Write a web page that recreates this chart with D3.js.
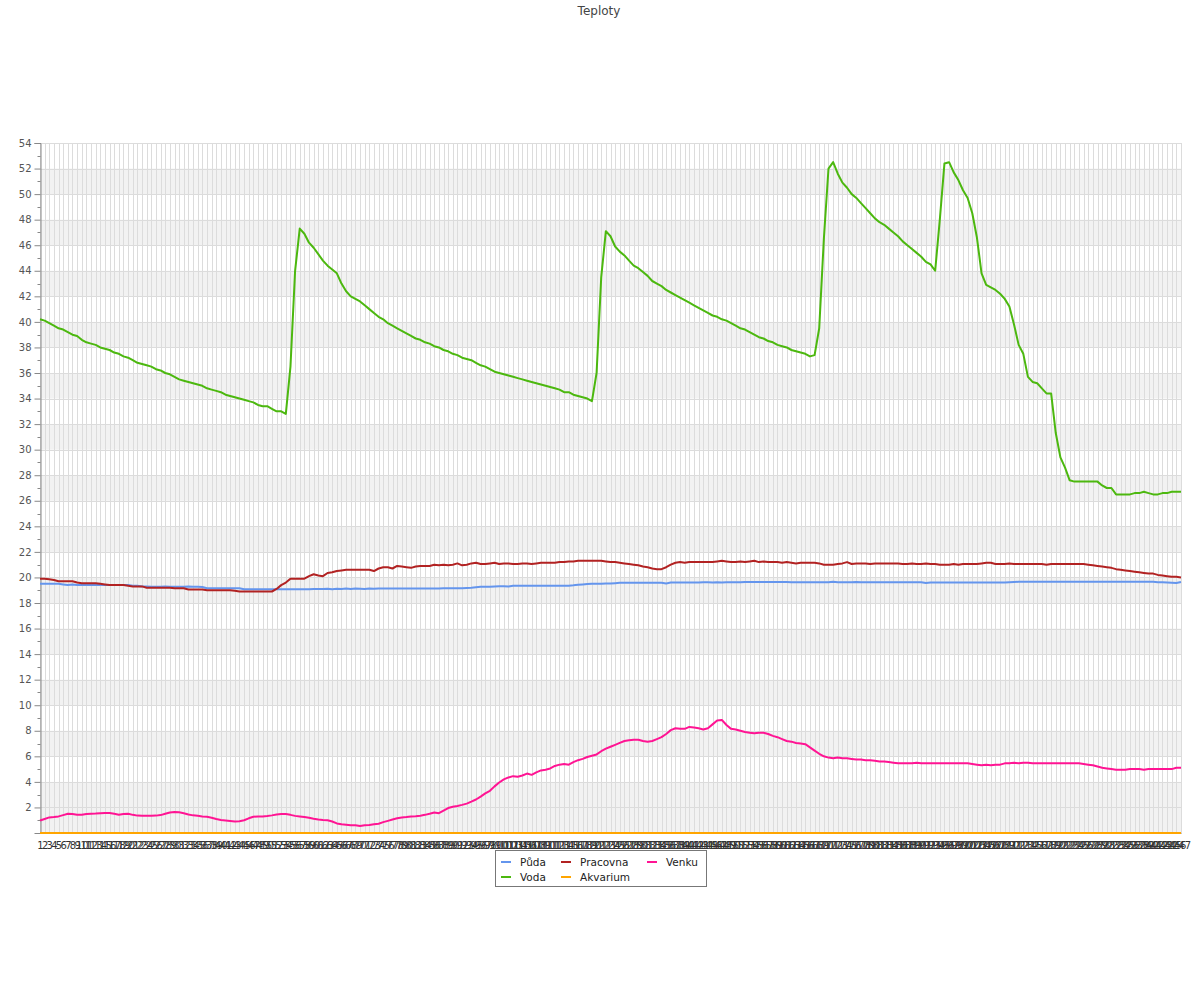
<!DOCTYPE html>
<html><head><meta charset="utf-8">
<script src="https://cdn.jsdelivr.net/npm/d3@7/dist/d3.min.js"></script>
<style>body{margin:0;background:#fff;font-family:"DejaVu Sans",sans-serif}</style>
</head><body><svg id="c" width="1200" height="1000"></svg>
<script>
const chartTitle = "Teploty";
const categories = [1,2,3,4,5,6,7,8,9,10,11,12,13,14,15,16,17,18,19,20,21,22,23,24,25,26,27,28,29,30,31,32,33,34,35,36,37,38,39,40,41,42,43,44,45,46,47,48,49,50,51,52,53,54,55,56,57,58,59,60,61,62,63,64,65,66,67,68,69,70,71,72,73,74,75,76,77,78,79,80,81,82,83,84,85,86,87,88,89,90,91,92,93,94,95,96,97,98,99,100,101,102,103,104,105,106,107,108,109,110,111,112,113,114,115,116,117,118,119,120,121,122,123,124,125,126,127,128,129,130,131,132,133,134,135,136,137,138,139,140,141,142,143,144,145,146,147,148,149,150,151,152,153,154,155,156,157,158,159,160,161,162,163,164,165,166,167,168,169,170,171,172,173,174,175,176,177,178,179,180,181,182,183,184,185,186,187,188,189,190,191,192,193,194,195,196,197,198,199,200,201,202,203,204,205,206,207,208,209,210,211,212,213,214,215,216,217,218,219,220,221,222,223,224,225,226,227,228,229,230,231,232,233,234,235,236,237,238,239,240,241,242,243,244,245,246,247];
const seriesNames = ["Půda","Voda","Pracovna","Akvarium","Venku"];
const yTickValues = [2,4,6,8,10,12,14,16,18,20,22,24,26,28,30,32,34,36,38,40,42,44,46,48,50,52,54];

const puda = [
19.5,19.5,19.5,19.5,19.5,19.45,19.4,19.45,19.4,19.4,
19.4,19.4,19.4,19.4,19.4,19.4,19.4,19.4,19.4,19.4,
19.35,19.35,19.3,19.3,19.28,19.28,19.28,19.3,19.28,19.28,
19.28,19.28,19.3,19.28,19.28,19.25,19.15,19.15,19.15,19.15,
19.15,19.15,19.15,19.15,19.07,19.07,19.07,19.07,19.07,19.07,
19.07,19.07,19.07,19.07,19.07,19.07,19.07,19.07,19.07,19.1,
19.1,19.1,19.12,19.08,19.12,19.1,19.14,19.1,19.14,19.12,
19.1,19.14,19.12,19.14,19.14,19.14,19.14,19.14,19.14,19.14,
19.14,19.14,19.14,19.14,19.14,19.14,19.14,19.15,19.15,19.15,
19.15,19.15,19.18,19.2,19.24,19.28,19.28,19.28,19.3,19.32,
19.32,19.3,19.35,19.35,19.35,19.35,19.35,19.35,19.35,19.35,
19.35,19.35,19.35,19.35,19.35,19.38,19.42,19.45,19.48,19.5,
19.5,19.5,19.52,19.52,19.55,19.58,19.58,19.58,19.58,19.58,
19.58,19.58,19.58,19.58,19.58,19.53,19.6,19.6,19.6,19.6,
19.6,19.6,19.6,19.62,19.62,19.6,19.62,19.6,19.62,19.62,
19.62,19.62,19.65,19.65,19.65,19.65,19.65,19.65,19.65,19.65,
19.65,19.65,19.62,19.62,19.62,19.62,19.62,19.62,19.62,19.62,
19.62,19.67,19.62,19.62,19.62,19.62,19.64,19.62,19.62,19.62,
19.62,19.62,19.62,19.62,19.62,19.62,19.62,19.62,19.62,19.62,
19.62,19.56,19.6,19.6,19.6,19.6,19.6,19.6,19.6,19.6,
19.6,19.6,19.6,19.6,19.6,19.6,19.6,19.6,19.6,19.62,
19.64,19.66,19.66,19.66,19.66,19.66,19.66,19.66,19.66,19.66,
19.66,19.66,19.66,19.66,19.66,19.66,19.66,19.66,19.66,19.66,
19.66,19.66,19.66,19.66,19.66,19.66,19.66,19.66,19.66,19.66,
19.66,19.62,19.62,19.6,19.58,19.56,19.64];

const voda = [
40.2,40.1,39.9,39.7,39.5,39.4,39.2,39.0,38.9,38.6,
38.4,38.3,38.2,38.0,37.9,37.8,37.6,37.5,37.3,37.2,
37.0,36.8,36.7,36.6,36.5,36.3,36.2,36.0,35.9,35.7,
35.5,35.4,35.3,35.2,35.1,35.0,34.8,34.7,34.6,34.5,
34.3,34.2,34.1,34.0,33.9,33.8,33.7,33.5,33.4,33.4,
33.2,33.0,33.0,32.8,36.5,44.0,47.3,46.9,46.2,45.8,
45.3,44.8,44.4,44.1,43.8,43.0,42.4,42.0,41.8,41.6,
41.3,41.0,40.7,40.4,40.2,39.9,39.7,39.5,39.3,39.1,
38.9,38.7,38.6,38.4,38.3,38.1,38.0,37.8,37.7,37.5,
37.4,37.2,37.1,37.0,36.8,36.6,36.5,36.3,36.1,36.0,
35.9,35.8,35.7,35.6,35.5,35.4,35.3,35.2,35.1,35.0,
34.9,34.8,34.7,34.5,34.5,34.3,34.2,34.1,34.0,33.8,
36.0,43.5,47.1,46.7,45.9,45.5,45.2,44.8,44.4,44.2,
43.9,43.6,43.2,43.0,42.8,42.5,42.3,42.1,41.9,41.7,
41.5,41.3,41.1,40.9,40.7,40.5,40.4,40.2,40.1,39.9,
39.7,39.5,39.4,39.2,39.0,38.8,38.7,38.5,38.4,38.2,
38.1,38.0,37.8,37.7,37.6,37.5,37.3,37.4,39.5,46.5,
52.0,52.5,51.6,50.9,50.5,50.0,49.7,49.3,48.9,48.5,
48.1,47.8,47.6,47.3,47.0,46.7,46.3,46.0,45.7,45.4,
45.1,44.7,44.5,44.0,48.0,52.4,52.5,51.7,51.1,50.3,
49.7,48.5,46.6,43.8,42.9,42.7,42.5,42.2,41.8,41.2,
39.8,38.2,37.5,35.7,35.3,35.2,34.8,34.4,34.4,31.3,
29.4,28.6,27.6,27.5,27.5,27.5,27.5,27.5,27.5,27.2,
27.0,27.0,26.5,26.5,26.5,26.5,26.6,26.6,26.7,26.6,
26.5,26.5,26.6,26.6,26.7,26.7,26.7];

const pracovna = [
19.9,19.9,19.85,19.8,19.7,19.7,19.7,19.7,19.6,19.55,
19.55,19.55,19.55,19.5,19.45,19.4,19.4,19.4,19.4,19.35,
19.3,19.3,19.3,19.2,19.2,19.2,19.2,19.2,19.2,19.15,
19.15,19.15,19.05,19.05,19.05,19.05,19.0,19.0,19.0,19.0,
19.0,19.0,18.95,18.9,18.9,18.9,18.9,18.9,18.9,18.9,
18.9,19.1,19.4,19.6,19.9,19.9,19.9,19.9,20.1,20.25,
20.15,20.1,20.35,20.4,20.5,20.55,20.6,20.6,20.6,20.6,
20.6,20.6,20.5,20.7,20.8,20.8,20.7,20.9,20.85,20.8,
20.75,20.85,20.9,20.9,20.9,21.0,20.95,21.0,20.95,21.0,
21.1,20.95,21.0,21.1,21.15,21.05,21.05,21.1,21.15,21.05,
21.1,21.1,21.05,21.05,21.1,21.1,21.05,21.1,21.15,21.15,
21.15,21.15,21.2,21.2,21.25,21.25,21.3,21.3,21.3,21.3,
21.3,21.3,21.25,21.2,21.2,21.15,21.1,21.05,21.0,20.95,
20.85,20.8,20.7,20.65,20.65,20.8,21.0,21.15,21.2,21.15,
21.2,21.2,21.2,21.2,21.2,21.2,21.25,21.3,21.25,21.2,
21.2,21.25,21.2,21.25,21.3,21.2,21.25,21.2,21.2,21.2,
21.15,21.2,21.15,21.1,21.15,21.15,21.15,21.15,21.1,21.0,
21.0,21.0,21.05,21.1,21.2,21.05,21.1,21.1,21.1,21.05,
21.1,21.1,21.1,21.1,21.1,21.1,21.05,21.05,21.1,21.05,
21.05,21.1,21.05,21.05,21.0,21.0,21.0,21.05,21.0,21.05,
21.05,21.05,21.05,21.1,21.15,21.15,21.05,21.05,21.05,21.1,
21.05,21.05,21.05,21.05,21.05,21.05,21.05,21.0,21.05,21.05,
21.05,21.05,21.05,21.05,21.05,21.05,21.0,20.95,20.9,20.85,
20.8,20.75,20.65,20.6,20.55,20.5,20.45,20.4,20.35,20.3,
20.3,20.2,20.15,20.1,20.05,20.05,20.0];

const akvarium = [
0,0,0,0,0,0,0,0,0,0,0,0,0,0,0,0,0,0,0,0,0,0,0,0,0,0,0,0,0,0,
0,0,0,0,0,0,0,0,0,0,0,0,0,0,0,0,0,0,0,0,0,0,0,0,0,0,0,0,0,0,
0,0,0,0,0,0,0,0,0,0,0,0,0,0,0,0,0,0,0,0,0,0,0,0,0,0,0,0,0,0,
0,0,0,0,0,0,0,0,0,0,0,0,0,0,0,0,0,0,0,0,0,0,0,0,0,0,0,0,0,0,
0,0,0,0,0,0,0,0,0,0,0,0,0,0,0,0,0,0,0,0,0,0,0,0,0,0,0,0,0,0,
0,0,0,0,0,0,0,0,0,0,0,0,0,0,0,0,0,0,0,0,0,0,0,0,0,0,0,0,0,0,
0,0,0,0,0,0,0,0,0,0,0,0,0,0,0,0,0,0,0,0,0,0,0,0,0,0,0,0,0,0,
0,0,0,0,0,0,0,0,0,0,0,0,0,0,0,0,0,0,0,0,0,0,0,0,0,0,0,0,0,0,
0,0,0,0,0,0,0];

const venku = [
0.98,1.1,1.22,1.25,1.3,1.4,1.5,1.48,1.42,1.42,
1.48,1.5,1.52,1.55,1.56,1.56,1.5,1.43,1.48,1.5,
1.42,1.36,1.35,1.35,1.35,1.36,1.4,1.5,1.6,1.64,
1.62,1.55,1.45,1.38,1.35,1.3,1.27,1.2,1.1,1.02,
0.98,0.94,0.9,0.92,1.0,1.15,1.27,1.3,1.3,1.33,
1.38,1.45,1.48,1.48,1.42,1.34,1.3,1.25,1.2,1.12,
1.05,1.02,1.0,0.9,0.75,0.68,0.65,0.6,0.6,0.55,
0.6,0.62,0.68,0.72,0.85,0.95,1.05,1.15,1.22,1.25,
1.3,1.32,1.35,1.42,1.5,1.6,1.55,1.75,1.95,2.05,
2.12,2.2,2.3,2.45,2.62,2.85,3.1,3.3,3.65,3.95,
4.2,4.35,4.45,4.4,4.5,4.65,4.55,4.75,4.9,4.95,
5.05,5.25,5.35,5.4,5.35,5.55,5.7,5.8,5.95,6.05,
6.15,6.4,6.6,6.75,6.9,7.05,7.2,7.25,7.3,7.3,
7.2,7.15,7.2,7.35,7.5,7.75,8.05,8.2,8.15,8.15,
8.3,8.25,8.2,8.1,8.2,8.5,8.8,8.85,8.45,8.15,
8.1,8.0,7.9,7.85,7.8,7.85,7.85,7.75,7.6,7.5,
7.35,7.2,7.15,7.05,7.0,6.95,6.7,6.45,6.2,6.0,
5.9,5.85,5.9,5.85,5.85,5.8,5.75,5.75,5.7,5.7,
5.65,5.6,5.6,5.55,5.5,5.45,5.45,5.45,5.45,5.5,
5.45,5.45,5.45,5.45,5.45,5.45,5.45,5.45,5.45,5.45,
5.45,5.4,5.35,5.3,5.35,5.3,5.35,5.35,5.45,5.45,
5.5,5.45,5.5,5.5,5.45,5.45,5.45,5.45,5.45,5.45,
5.45,5.45,5.45,5.45,5.45,5.4,5.35,5.3,5.2,5.1,
5.05,5.0,4.95,4.95,4.95,5.0,5.0,5.0,4.95,5.0,
5.0,5.0,5.0,5.0,5.0,5.1,5.1];

const seriesValues = [puda, voda, pracovna, akvarium, venku];
const seriesColors = ["#6495ed", "#4cb80f", "#b22222", "#ffa500", "#ff1493"];

(function () {
const svg = d3.select("#c");
const pL = 40, pR = 1181, pT = 143, pB = 833;
const x = d3.scalePoint().domain(categories).range([pL, pR]);
const y = d3.scaleLinear().domain([0, 54]).range([pB, pT]);

svg.append("text").attr("x", 599).attr("y", 15).attr("text-anchor", "middle")
  .attr("font-size", 12).attr("fill", "#444").text(chartTitle);

const bandStarts = [0,2,6,10,14,18,22,26,30,34,38,42,46,50];
svg.append("g").selectAll("rect").data(bandStarts).join("rect")
  .attr("x", pL).attr("width", pR - pL)
  .attr("y", d => y(d + 2)).attr("height", d => y(d) - y(d + 2))
  .attr("fill", "#f2f2f2");

svg.append("g").selectAll("line").data(categories).join("line")
  .attr("x1", d => Math.round(x(d)) + 0.5).attr("x2", d => Math.round(x(d)) + 0.5)
  .attr("y1", pT).attr("y2", pB).attr("stroke", "#dcdcdc").attr("stroke-width", 1);

svg.append("g").selectAll("line").data(yTickValues).join("line")
  .attr("x1", pL).attr("x2", pR)
  .attr("y1", d => Math.round(y(d)) + 0.5).attr("y2", d => Math.round(y(d)) + 0.5)
  .attr("stroke", "#dcdcdc").attr("stroke-width", 1);

const yAxis = d3.axisLeft(y).tickValues(yTickValues).tickSize(6).tickPadding(3).tickFormat(d3.format("d"));
const ya = svg.append("g").attr("transform", `translate(${pL + 0.5},0)`).call(yAxis);
ya.select(".domain").attr("stroke", "#888");
ya.selectAll(".tick line").attr("stroke", "#888");
ya.selectAll("text").attr("font-size", 10).attr("fill", "#555").attr("font-family", "DejaVu Sans");
const minorTicks = d3.range(1, 54, 2);
ya.append("g").selectAll("line").data(minorTicks).join("line")
  .attr("x1", -3).attr("x2", 0).attr("y1", d => Math.round(y(d)) + 0.5).attr("y2", d => Math.round(y(d)) + 0.5)
  .attr("stroke", "#888");

const xAxis = d3.axisBottom(x).tickSize(0).tickPadding(9);
const xa = svg.append("g").attr("transform", `translate(0,${pB})`).call(xAxis);
xa.select(".domain").attr("stroke", "#888");
xa.selectAll("text").attr("font-size", 10).attr("fill", "#333").attr("font-family", "DejaVu Sans");

const line = d3.line().x((d, i) => x(categories[i])).y(d => y(d));
svg.append("g").selectAll("path").data(seriesValues).join("path")
  .attr("d", d => line(d)).attr("fill", "none")
  .attr("stroke", (d, i) => seriesColors[i]).attr("stroke-width", 2)
  .attr("stroke-linejoin", "round");

const lg = svg.append("g");
lg.append("rect").attr("x", 495.5).attr("y", 850.5).attr("width", 211).attr("height", 36)
  .attr("fill", "#fff").attr("stroke", "#777");
const legPos = [[501, 862], [501, 877], [561, 862], [561, 877], [647, 862]];
seriesNames.forEach((n, i) => {
  const [lx, ly] = legPos[i];
  lg.append("line").attr("x1", lx).attr("x2", lx + 10).attr("y1", ly).attr("y2", ly)
    .attr("stroke", seriesColors[i]).attr("stroke-width", 2);
  lg.append("text").attr("x", lx + 19).attr("y", ly).attr("dy", "0.35em")
    .attr("font-size", 10.5).attr("fill", "#222").text(n);
});
})();
</script></body></html>
